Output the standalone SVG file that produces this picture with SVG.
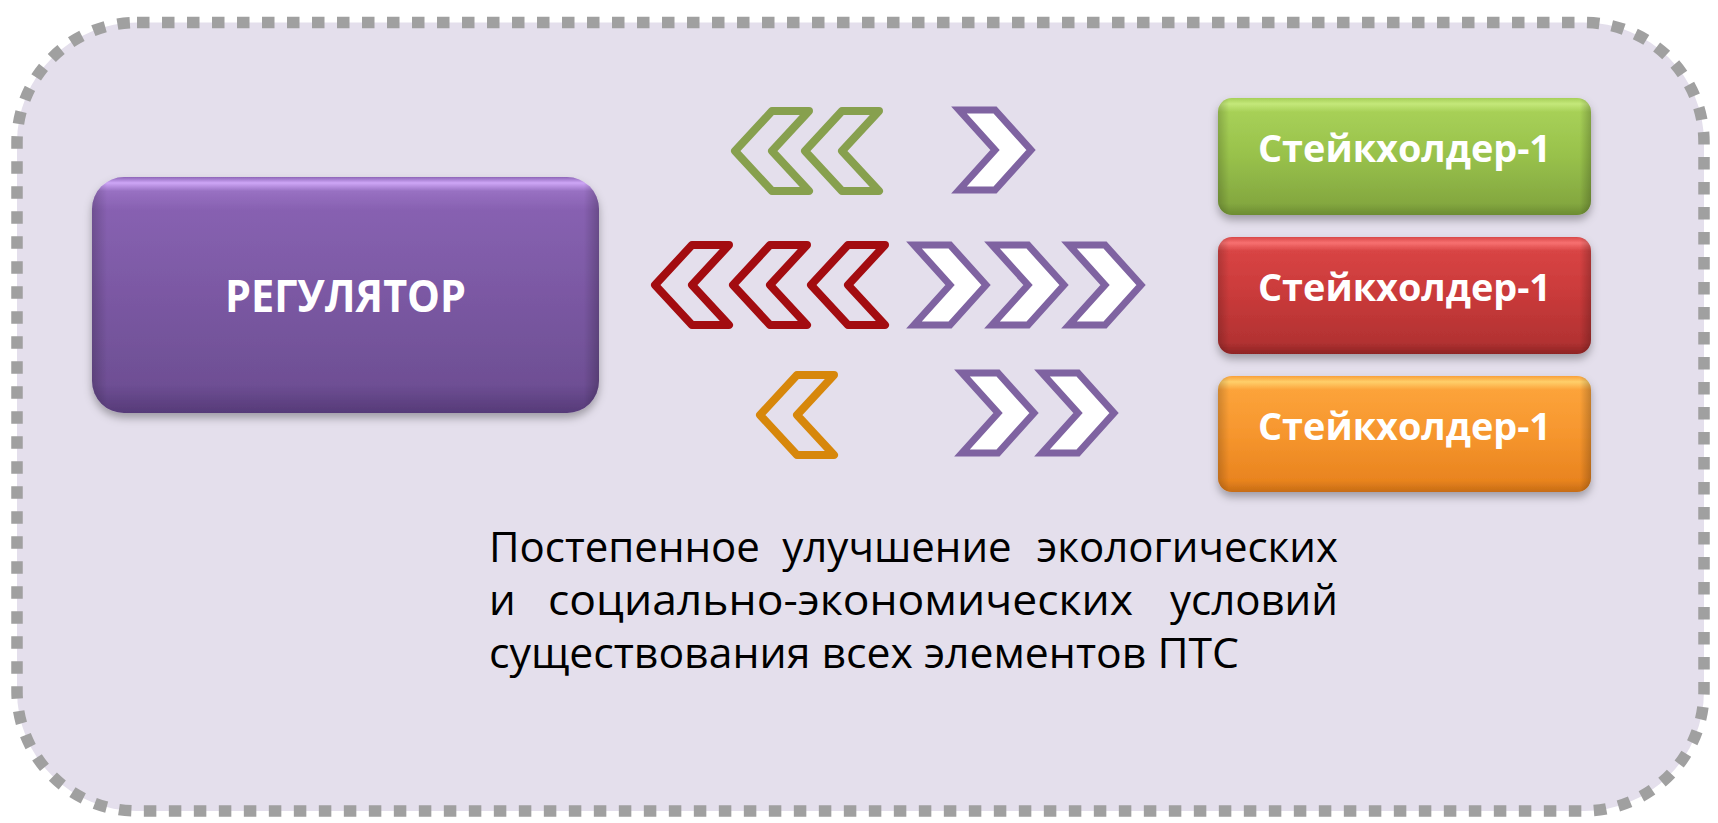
<svg xmlns="http://www.w3.org/2000/svg" xmlns:xlink="http://www.w3.org/1999/xlink" width="1718" height="823" viewBox="0 0 1718 823">
<defs>
<style>
.lbl{font-family:"Open Sans","Noto Sans","DejaVu Sans",sans-serif;font-weight:700;fill:#ffffff;text-anchor:middle}
.par{font-family:"Open Sans","Noto Sans","DejaVu Sans",sans-serif;font-size:42px;fill:#000000}
.cl{fill:none;stroke-width:8;stroke-linejoin:round}
.cr{fill:#ffffff;stroke:#7f63a1;stroke-width:7;stroke-linejoin:miter}
.ov{fill:url(#gOv)}
</style>
<path id="chL" d="M0,0 L37,-40 L74,-40 L37,0 L74,40 L37,40 Z"/>
<path id="chR" d="M0,-40 H36 L72,0 L36,40 H0 L36,0 Z"/>
<linearGradient id="gPur" x1="0" y1="0" x2="0" y2="1">
<stop offset="0" stop-color="#8e66b8"/><stop offset="0.025" stop-color="#cda6f6"/><stop offset="0.06" stop-color="#9870c2"/><stop offset="0.14" stop-color="#8761b1"/><stop offset="0.88" stop-color="#6e4f94"/><stop offset="1" stop-color="#563a78"/>
</linearGradient>
<linearGradient id="gGrn" x1="0" y1="0" x2="0" y2="1">
<stop offset="0" stop-color="#a6cf58"/><stop offset="0.05" stop-color="#c4e87a"/><stop offset="0.12" stop-color="#a7d057"/><stop offset="0.5" stop-color="#98c14b"/><stop offset="0.9" stop-color="#84a840"/><stop offset="1" stop-color="#6c8c32"/>
</linearGradient>
<linearGradient id="gRed" x1="0" y1="0" x2="0" y2="1">
<stop offset="0" stop-color="#d84848"/><stop offset="0.05" stop-color="#f77070"/><stop offset="0.12" stop-color="#d84444"/><stop offset="0.5" stop-color="#c93a3a"/><stop offset="0.9" stop-color="#b23232"/><stop offset="1" stop-color="#8e2424"/>
</linearGradient>
<linearGradient id="gOrg" x1="0" y1="0" x2="0" y2="1">
<stop offset="0" stop-color="#f9a03a"/><stop offset="0.05" stop-color="#ffcf6a"/><stop offset="0.12" stop-color="#fca33a"/><stop offset="0.5" stop-color="#f6962e"/><stop offset="0.9" stop-color="#e9841f"/><stop offset="1" stop-color="#c66c14"/>
</linearGradient>
<linearGradient id="gOv" x1="0" y1="0" x2="1" y2="0">
<stop offset="0" stop-color="#000" stop-opacity="0.18"/><stop offset="0.03" stop-color="#000" stop-opacity="0"/><stop offset="0.97" stop-color="#000" stop-opacity="0"/><stop offset="1" stop-color="#000" stop-opacity="0.22"/>
</linearGradient>
<filter id="sh" x="-10%" y="-15%" width="120%" height="140%">
<feDropShadow dx="0" dy="5" stdDeviation="4" flood-color="#000000" flood-opacity="0.3"/>
</filter>
</defs>

<g id="frame">
<rect x="17" y="22.5" width="1687" height="788.5" rx="120" fill="#e4dfec" stroke="#a0a0a0" stroke-width="11.5" stroke-dasharray="12.5 12.5"/>
</g>

<g id="regulator">
<rect x="92" y="177" width="507" height="236" rx="32" fill="url(#gPur)" filter="url(#sh)"/>
<rect x="92" y="177" width="507" height="236" rx="32" class="ov"/>
<text class="lbl" x="345.5" y="312" font-size="44" textLength="241" lengthAdjust="spacingAndGlyphs">РЕГУЛЯТОР</text>
</g>

<g id="stakeholder-green">
<rect x="1218" y="98" width="373" height="117" rx="14" fill="url(#gGrn)" filter="url(#sh)"/>
<rect x="1218" y="98" width="373" height="117" rx="14" class="ov"/>
<text class="lbl" x="1404.5" y="162" font-size="38" textLength="293" lengthAdjust="spacingAndGlyphs">Стейкхолдер-1</text>
</g>

<g id="stakeholder-red">
<rect x="1218" y="237" width="373" height="117" rx="14" fill="url(#gRed)" filter="url(#sh)"/>
<rect x="1218" y="237" width="373" height="117" rx="14" class="ov"/>
<text class="lbl" x="1404.5" y="301" font-size="38" textLength="293" lengthAdjust="spacingAndGlyphs">Стейкхолдер-1</text>
</g>

<g id="stakeholder-orange">
<rect x="1218" y="376" width="373" height="116" rx="14" fill="url(#gOrg)" filter="url(#sh)"/>
<rect x="1218" y="376" width="373" height="116" rx="14" class="ov"/>
<text class="lbl" x="1404.5" y="440" font-size="38" textLength="293" lengthAdjust="spacingAndGlyphs">Стейкхолдер-1</text>
</g>

<g id="connectors">
<g id="row-top">
<use xlink:href="#chL" href="#chL" x="735" y="151" class="cl" stroke="#87a04e"/>
<use xlink:href="#chL" href="#chL" x="805" y="151" class="cl" stroke="#87a04e"/>
<use xlink:href="#chR" href="#chR" x="959" y="150" class="cr"/>
</g>
<g id="row-middle">
<use xlink:href="#chL" href="#chL" x="655" y="285" class="cl" stroke="#a30c10"/>
<use xlink:href="#chL" href="#chL" x="733" y="285" class="cl" stroke="#a30c10"/>
<use xlink:href="#chL" href="#chL" x="811" y="285" class="cl" stroke="#a30c10"/>
<use xlink:href="#chR" href="#chR" x="914" y="285" class="cr"/>
<use xlink:href="#chR" href="#chR" x="992" y="285" class="cr"/>
<use xlink:href="#chR" href="#chR" x="1069" y="285" class="cr"/>
</g>
<g id="row-bottom">
<use xlink:href="#chL" href="#chL" x="760" y="415" class="cl" stroke="#d7870b"/>
<use xlink:href="#chR" href="#chR" x="962" y="413" class="cr"/>
<use xlink:href="#chR" href="#chR" x="1042" y="413" class="cr"/>
</g>
</g>

<g id="caption">
<text class="par" x="489" y="562">Постепенное</text>
<text class="par" x="897" y="562" text-anchor="middle">улучшение</text>
<text class="par" x="1338" y="562" text-anchor="end">экологических</text>
<text class="par" x="489" y="615">и</text>
<text class="par" x="548" y="615" textLength="585" lengthAdjust="spacingAndGlyphs">социально-экономических</text>
<text class="par" x="1338" y="615" text-anchor="end">условий</text>
<text class="par" x="489" y="668" textLength="750" lengthAdjust="spacingAndGlyphs">существования всех элементов ПТС</text>
</g>
</svg>
